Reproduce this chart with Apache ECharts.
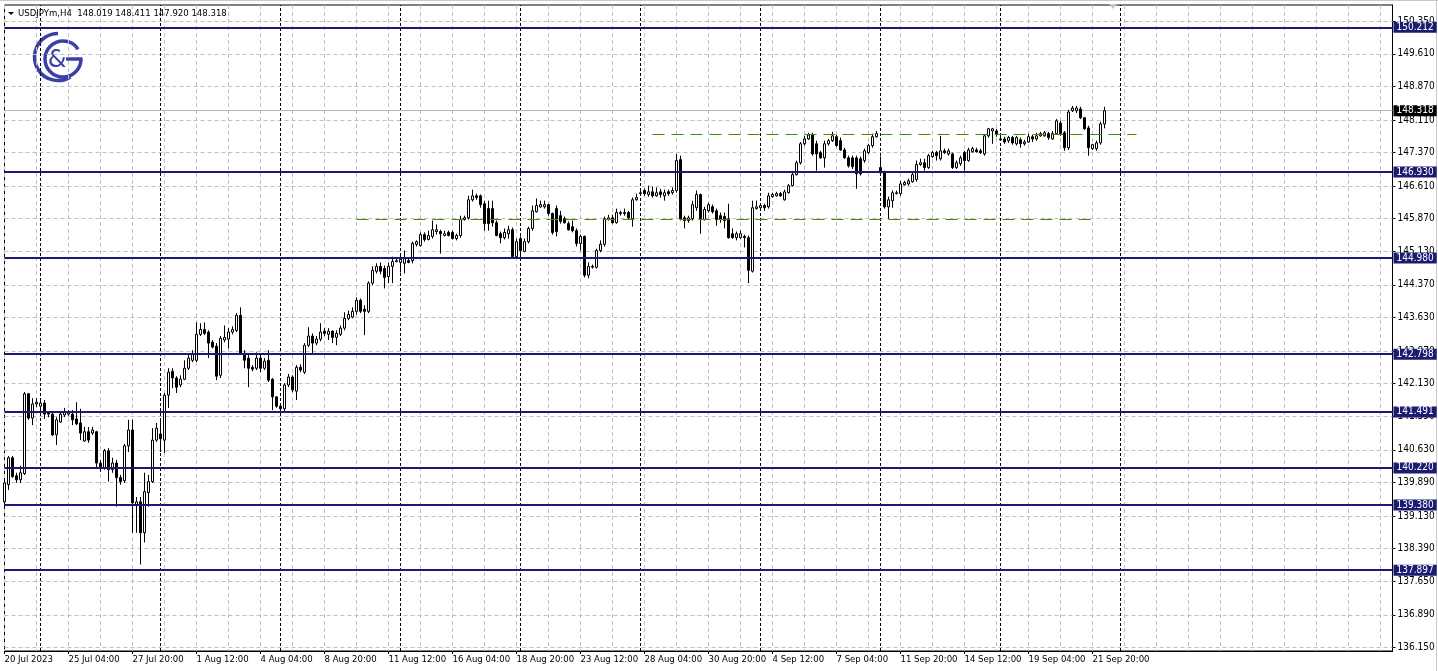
<!DOCTYPE html>
<html><head><meta charset="utf-8">
<script src="https://cdn.jsdelivr.net/npm/echarts@6/dist/echarts.min.js"></script>
<style>html,body{margin:0;padding:0;background:#fff}#c{width:1438px;height:671px}</style>
</head><body><div id="c"></div>
<script>
// ---------- DATA ----------
const symbolName = 'USDJPYm,H4';
const lastQuote = [148.019, 148.411, 147.920, 148.318]; // O H L C of last bar
// candles per week: [open, close, low, high]
const wk0 = [[139.45,139.88,139.34,139.95],[139.84,140.45,139.72,140.49],[140.45,140.02,140.00,140.49],[140.04,139.95,139.88,140.11],[139.95,140.11,139.88,140.27],[140.09,141.90,140.06,141.94],[141.90,141.35,141.31,141.92],[141.35,141.67,141.19,141.80],[141.67,141.71,141.60,141.80]];
const wk1 = [[141.62,141.69,141.58,141.78],[141.69,141.44,141.33,141.76],[141.47,141.44,141.37,141.51],[141.44,140.97,140.94,141.47],[140.97,141.31,140.74,141.37],[141.26,141.44,141.24,141.51],[141.42,141.49,141.37,141.58],[141.44,141.47,141.40,141.53],[141.44,141.31,141.19,141.53],[141.33,141.22,141.19,141.71],[141.24,141.01,140.85,141.56],[140.83,141.04,140.81,141.15],[141.04,140.85,140.79,141.15],[141.01,141.08,140.97,141.15],[141.04,140.33,140.24,141.06],[140.33,140.22,140.13,140.40],[140.22,140.61,140.18,140.65],[140.61,140.18,139.91,140.67],[140.18,140.33,140.11,140.45],[140.33,140.00,139.34,140.40],[140.00,139.91,139.84,140.06],[139.93,140.72,139.88,140.76],[140.72,141.08,140.58,141.31],[141.08,139.43,138.75,141.31],[139.39,139.45,138.75,139.56],[139.45,138.75,138.03,139.56],[138.75,139.68,138.53,140.11],[139.66,139.91,139.34,140.06],[139.91,140.85,139.88,141.12],[140.85,141.12,140.81,141.24]];
const wk2 = [[140.99,140.88,140.58,141.31],[140.85,141.87,140.56,141.92],[141.87,142.39,141.58,142.48],[142.41,142.26,142.03,142.48],[142.26,142.05,141.92,142.30],[142.10,142.23,142.05,142.32],[142.23,142.48,142.21,142.66],[142.48,142.71,142.44,142.82],[142.66,142.80,142.62,142.89],[142.66,143.25,142.62,143.52],[143.25,143.36,143.21,143.50],[143.36,143.27,143.23,143.52],[143.30,143.05,142.71,143.34],[143.07,142.96,142.93,143.12],[142.98,142.30,142.21,143.05],[142.32,143.16,142.26,143.21],[143.12,143.18,143.07,143.45],[143.14,143.30,142.93,143.39],[143.30,143.36,143.25,143.43],[143.34,143.68,143.30,143.73],[143.68,142.80,142.78,143.86],[142.82,142.66,142.48,142.89],[142.71,142.48,142.05,142.78],[142.50,142.46,142.41,142.55],[142.48,142.71,142.44,142.84],[142.71,142.48,142.39,142.78],[142.48,142.64,142.44,142.71],[142.66,142.21,142.17,142.89],[142.23,141.83,141.53,142.26],[141.83,141.62,141.58,141.85]];
const wk3 = [[141.62,141.56,141.51,141.67],[141.56,142.10,141.47,142.14],[142.10,142.28,142.05,142.35],[142.28,141.99,141.94,142.32],[141.96,142.50,141.76,142.55],[142.50,142.44,142.39,142.57],[142.39,143.00,142.35,143.05],[143.00,143.21,142.96,143.41],[143.21,143.05,142.78,143.27],[143.05,143.14,143.00,143.21],[143.14,143.30,143.09,143.50],[143.32,143.27,143.21,143.39],[143.25,143.32,143.12,143.39],[143.32,143.18,143.05,143.34],[143.18,143.27,143.00,143.34],[143.25,143.39,143.21,143.45],[143.39,143.61,143.34,143.75],[143.61,143.70,143.57,143.79],[143.64,143.77,143.61,143.86],[143.77,144.02,143.70,144.09],[144.02,143.77,143.73,144.06],[143.82,143.77,143.23,143.91],[143.77,144.41,143.73,144.45],[144.41,144.70,144.36,144.79],[144.68,144.79,144.63,144.86],[144.79,144.68,144.61,144.88],[144.74,144.54,144.29,144.81],[144.56,144.79,144.41,144.88],[144.79,144.90,144.41,145.01],[144.90,144.92,144.88,144.99]];
const wk4 = [[144.88,144.95,144.65,145.04],[144.86,144.99,144.63,145.15],[144.92,144.88,144.86,144.97],[144.92,145.31,144.86,145.35],[145.29,145.35,145.24,145.38],[145.26,145.51,145.24,145.56],[145.51,145.40,145.35,145.56],[145.40,145.49,145.38,145.60],[145.47,145.62,145.42,145.83],[145.58,145.62,145.51,145.74],[145.58,145.53,145.08,145.62],[145.49,145.53,145.47,145.60],[145.56,145.49,145.47,145.60],[145.56,145.42,145.40,145.60],[145.42,145.49,145.38,145.53],[145.49,145.85,145.44,145.94],[145.85,145.89,145.83,145.94],[145.89,146.30,145.85,146.39],[146.30,146.39,146.26,146.53],[146.39,146.35,146.30,146.44],[146.39,146.19,146.12,146.42],[146.21,145.76,145.60,146.28],[146.10,145.76,145.60,146.28],[146.10,145.78,145.69,146.28],[145.78,145.49,145.47,145.83],[145.53,145.44,145.31,145.58],[145.44,145.56,145.40,145.65],[145.53,145.62,145.42,145.71],[145.62,145.01,144.97,145.67],[145.01,145.35,144.97,145.42]];
const wk5 = [[145.42,145.15,144.99,145.47],[145.13,145.35,145.11,145.42],[145.35,145.65,145.31,145.69],[145.65,146.05,145.60,146.17],[146.03,146.17,146.01,146.33],[146.14,146.19,146.12,146.28],[146.14,146.19,146.10,146.28],[146.19,145.99,145.94,146.21],[145.99,145.56,145.51,146.01],[146.10,145.58,145.47,146.17],[145.94,145.81,145.76,146.05],[145.87,145.78,145.76,145.92],[145.76,145.62,145.60,145.81],[145.69,145.60,145.56,145.83],[145.60,145.31,145.24,145.65],[145.31,145.47,145.15,145.51],[145.47,144.59,144.54,145.49],[144.59,144.79,144.52,144.88],[144.77,144.79,144.74,144.83],[144.77,145.15,144.74,145.19],[145.15,145.29,145.11,145.38],[145.29,145.87,145.24,145.92],[145.85,145.89,145.83,145.96],[145.89,145.78,145.76,145.96],[145.78,146.01,145.76,146.10],[146.01,145.99,145.94,146.05],[146.01,145.99,145.94,146.10],[146.01,145.89,145.85,146.05],[145.87,146.30,145.69,146.35],[146.30,146.35,146.28,146.44]];
const wk6 = [[146.44,146.46,146.42,146.55],[146.51,146.44,146.39,146.55],[146.42,146.48,146.37,146.62],[146.48,146.39,146.35,146.60],[146.39,146.46,146.37,146.58],[146.48,146.42,146.35,146.55],[146.39,146.46,146.28,146.53],[146.48,146.44,146.39,146.53],[146.46,146.51,146.42,146.58],[146.51,147.19,146.46,147.34],[147.21,145.87,145.83,147.30],[145.89,145.83,145.65,145.94],[145.83,145.89,145.78,145.94],[145.87,146.19,145.83,146.28],[146.12,146.42,146.05,146.51],[146.42,145.87,145.53,146.44],[145.85,146.08,145.83,146.14],[146.05,146.19,146.01,146.23],[146.14,146.03,145.99,146.19],[146.05,145.85,145.71,146.10],[145.94,145.85,145.78,146.01],[145.92,145.83,145.65,146.01],[145.87,145.44,145.42,146.21],[145.53,145.44,145.42,145.65],[145.44,145.53,145.38,145.58],[145.44,145.53,145.42,145.60],[145.47,145.44,145.22,145.51],[145.44,144.70,144.41,145.49],[144.68,146.12,144.65,146.28],[146.10,146.14,146.08,146.28]];
const wk7 = [[146.12,146.17,146.10,146.21],[146.17,146.12,146.05,146.21],[146.14,146.39,146.10,146.46],[146.37,146.42,146.35,146.46],[146.39,146.44,146.37,146.48],[146.44,146.39,146.37,146.48],[146.30,146.48,146.28,146.53],[146.46,146.62,146.44,146.66],[146.62,146.87,146.60,146.91],[146.87,147.14,146.85,147.19],[147.14,147.57,147.10,147.61],[147.57,147.68,147.53,147.75],[147.68,147.77,147.66,147.82],[147.77,147.34,147.30,147.82],[147.57,147.34,146.96,147.64],[147.37,147.25,147.23,147.41],[147.25,147.57,147.03,147.64],[147.57,147.64,147.53,147.68],[147.64,147.75,147.61,147.84],[147.73,147.53,147.50,147.77],[147.64,147.43,147.41,147.71],[147.43,147.25,147.23,147.48],[147.25,147.07,147.03,147.30],[147.25,147.05,147.00,147.30],[147.25,146.89,146.55,147.30],[147.23,146.89,146.85,147.28],[147.19,147.41,147.14,147.46],[147.37,147.53,147.34,147.57],[147.53,147.73,147.48,147.80],[147.73,147.80,147.71,147.86]];
const wk8 = [[147.03,146.91,146.89,147.28],[146.91,146.14,146.10,146.96],[146.14,146.30,145.87,146.37],[146.28,146.46,146.12,146.51],[146.44,146.46,146.42,146.51],[146.44,146.66,146.39,146.73],[146.64,146.69,146.62,146.73],[146.66,146.73,146.62,146.78],[146.71,146.87,146.69,146.91],[146.76,147.10,146.71,147.19],[147.10,147.14,147.07,147.23],[147.14,147.03,146.96,147.23],[147.03,147.30,147.00,147.34],[147.28,147.37,147.25,147.41],[147.37,147.30,147.19,147.41],[147.23,147.41,147.19,147.75],[147.41,147.37,147.34,147.46],[147.34,147.41,147.30,147.46],[147.34,147.03,147.00,147.37],[147.03,147.14,147.00,147.19],[147.12,147.25,147.07,147.30],[147.37,147.19,146.96,147.41],[147.19,147.43,147.16,147.48],[147.39,147.46,147.37,147.50],[147.43,147.39,147.37,147.48],[147.41,147.37,147.34,147.46],[147.34,147.75,147.30,147.77],[147.75,147.91,147.71,147.93],[147.86,147.91,147.57,147.93],[147.86,147.80,147.73,147.91]];
const wk9 = [[147.68,147.66,147.64,147.77],[147.68,147.61,147.57,147.73],[147.64,147.71,147.59,147.75],[147.71,147.59,147.55,147.75],[147.57,147.71,147.53,147.75],[147.66,147.57,147.48,147.71],[147.57,147.61,147.53,147.66],[147.61,147.73,147.59,147.80],[147.73,147.68,147.61,147.77],[147.68,147.75,147.64,147.82],[147.75,147.80,147.73,147.84],[147.75,147.82,147.73,147.86],[147.80,147.71,147.66,147.84],[147.68,147.80,147.66,147.86],[147.80,148.09,147.77,148.13],[148.04,147.80,147.75,148.09],[147.82,147.48,147.41,147.86],[147.48,148.29,147.43,148.34],[148.32,148.38,148.29,148.43],[148.32,148.38,148.27,148.43],[148.36,148.16,148.13,148.41],[148.16,147.91,147.89,148.18],[147.93,147.48,147.30,147.98],[147.46,147.55,147.43,147.57],[147.46,147.59,147.41,147.64],[147.59,148.02,147.55,148.07],[148.019,148.318,147.920,148.411]];

const xTickLabels = ['20 Jul 2023','25 Jul 04:00','27 Jul 20:00','1 Aug 12:00','4 Aug 04:00','8 Aug 20:00','11 Aug 12:00','16 Aug 04:00','18 Aug 20:00','23 Aug 12:00','28 Aug 04:00','30 Aug 20:00','4 Sep 12:00','7 Sep 04:00','11 Sep 20:00','14 Sep 12:00','19 Sep 04:00','21 Sep 20:00'];
const yTickLabels = ['136.150','136.890','137.650','138.390','139.130','139.890','140.630','141.390','142.130','142.870','143.630','144.370','145.130','145.870','146.610','147.370','148.110','148.870','149.610','150.350'];
const levels = [150.212, 146.930, 144.980, 142.798, 141.491, 140.220, 139.380, 137.897];
const bidPrice = 148.318;
const weekSeparators = [9, 39, 69, 99, 129, 159, 189, 219, 249, 279];
const trendLines = [[162, 283, 147.792], [88, 272, 145.858]]; // [fromBar, toBar, price]
const priceRange = [136.068, 150.717];
const totalSlots = 348;   // bars + right-side shift space
const barsPerLabel = 16;
const barsPerGrid = 8;

// ---------- CHART ----------
const FONT = "'DejaVu Sans Condensed','Liberation Sans',sans-serif";
const NAVY = '#1b1b72';
const GREEN = '#3f8f00';
const LOGO = '#3c40a6';
const candles = [].concat(wk0, wk1, wk2, wk3, wk4, wk5, wk6, wk7, wk8, wk9);
const categories = Array.from({length: totalSlots}, (_, i) => String(i));
const yTickValues = yTickLabels.map(Number);
const labelAt = i => (i % barsPerLabel === 0 && i / barsPerLabel < xTickLabels.length) ? xTickLabels[i / barsPerLabel] : null;
const trendStyle = {color: GREEN, type: [12, 7], width: 1};

const chart = echarts.init(document.getElementById('c'), null, {renderer: 'canvas'});
const deg = Math.PI / 180;
const option = {
  animation: false,
  backgroundColor: '#fff',
  grid: {left: 4.5, right: 45.5, top: 5, bottom: 20, show: true, borderColor: '#000', borderWidth: 1, backgroundColor: '#fff'},
  xAxis: {
    type: 'category', data: categories, boundaryGap: false,
    axisLine: {show: true, lineStyle: {color: '#000', width: 1}},
    axisTick: {show: true, length: 3, interval: (i) => labelAt(i) !== null, lineStyle: {color: '#000'}},
    axisLabel: {interval: (i) => labelAt(i) !== null, formatter: (v, i) => labelAt(i) || '', align: 'left', margin: 4,
      color: '#000', fontFamily: FONT, fontSize: 9.5},
    splitLine: {show: true, interval: (i) => i % barsPerGrid === 0, lineStyle: {color: '#c0c0c0', type: [4, 3], width: 1}}
  },
  yAxis: {
    type: 'value', position: 'right', min: priceRange[0], max: priceRange[1],
    axisLine: {show: true, lineStyle: {color: '#000', width: 1}},
    axisTick: {show: true, length: 3, customValues: yTickValues, lineStyle: {color: '#000'}},
    axisLabel: {customValues: yTickValues, formatter: (v) => Number(v).toFixed(3), margin: 5, color: '#000', fontFamily: FONT, fontSize: 10},
    splitLine: {show: false}
  },
  series: [
    {
      type: 'line', data: [], z: 1, silent: true,
      markLine: {
        silent: true, symbol: ['none', 'none'], z: 1, animation: false,
        data: [
          ...yTickValues.map(v => ({yAxis: v, lineStyle: {color: '#c0c0c0', type: [4, 3], width: 1}, label: {show: false}})),
          ...weekSeparators.map(i => ({xAxis: i, lineStyle: {color: '#000', type: [3, 2], width: 1}, label: {show: false}})),
          {yAxis: bidPrice, lineStyle: {color: '#b8b8b8', type: 'solid', width: 1},
            label: {show: true, position: 'end', distance: 1, formatter: () => bidPrice.toFixed(3), color: '#fff', backgroundColor: '#000',
              padding: [1, 3, 0, 3], fontFamily: FONT, fontSize: 10}}
        ]
      }
    },
    {
      type: 'candlestick', data: candles, z: 2, barWidth: 2, silent: true,
      itemStyle: {color: '#fff', color0: '#000', borderColor: '#000', borderColor0: '#000', borderWidth: 1},
      markLine: {
        silent: true, symbol: ['none', 'none'], z: 5, animation: false,
        data: levels.map(v => ({yAxis: v, lineStyle: {color: NAVY, type: 'solid', width: 2},
            label: {show: true, position: 'end', distance: 1, formatter: () => v.toFixed(3), color: '#fff', backgroundColor: NAVY,
              padding: [1, 3, 0, 3], fontFamily: FONT, fontSize: 10}}))
      }
    },
    {
      type: 'line', data: [], z: 6, silent: true,
      markLine: {
        silent: true, symbol: ['none', 'none'], z: 6, animation: false,
        lineStyle: trendStyle, label: {show: false},
        data: trendLines.map(t => [
          {coord: [t[0], t[2]], lineStyle: trendStyle},
          {coord: [t[1], t[2]], lineStyle: trendStyle}
        ])
      }
    }
  ],
  graphic: [
    {type: 'polygon', shape: {points: [[8, 12], [14, 12], [11, 15]]}, style: {fill: '#000'}, z: 100},
    {type: 'text', x: 18, y: 14, z: 100, style: {text: symbolName + '  ' + lastQuote.map(v => v.toFixed(3)).join(' '),
      font: '9.5px ' + FONT, fill: '#000', verticalAlign: 'middle', align: 'left'}},
    {type: 'polygon', shape: {points: [[1109, 4], [1117, 4], [1113, 9]]}, style: {fill: '#c8c8c8'}, z: 100},
    {type: 'group', z: 100, children: [
      {type: 'arc', shape: {cx: 58, cy: 57, r: 23.5, startAngle: 58 * deg, endAngle: 270 * deg, clockwise: true},
        style: {stroke: LOGO, lineWidth: 3.5, fill: null}},
      {type: 'arc', shape: {cx: 63, cy: 59, r: 18, startAngle: 0, endAngle: 327 * deg, clockwise: true},
        style: {stroke: LOGO, lineWidth: 3.5, fill: null}},
      {type: 'line', shape: {x1: 66, y1: 59, x2: 82.5, y2: 59}, style: {stroke: LOGO, lineWidth: 3.5}},
      {type: 'text', x: 57, y: 61, style: {text: '&', font: '24px "DejaVu Sans"', fill: LOGO, align: 'center', verticalAlign: 'middle'}}
    ]},
    {type: 'line', shape: {x1: 0, y1: 0.5, x2: 1438, y2: 0.5}, style: {stroke: '#c8c8c8', lineWidth: 1}},
    {type: 'line', shape: {x1: 1436.5, y1: 0, x2: 1436.5, y2: 671}, style: {stroke: '#c8c8c8', lineWidth: 1}}
  ]
};
chart.setOption(option);
</script>
</body></html>
